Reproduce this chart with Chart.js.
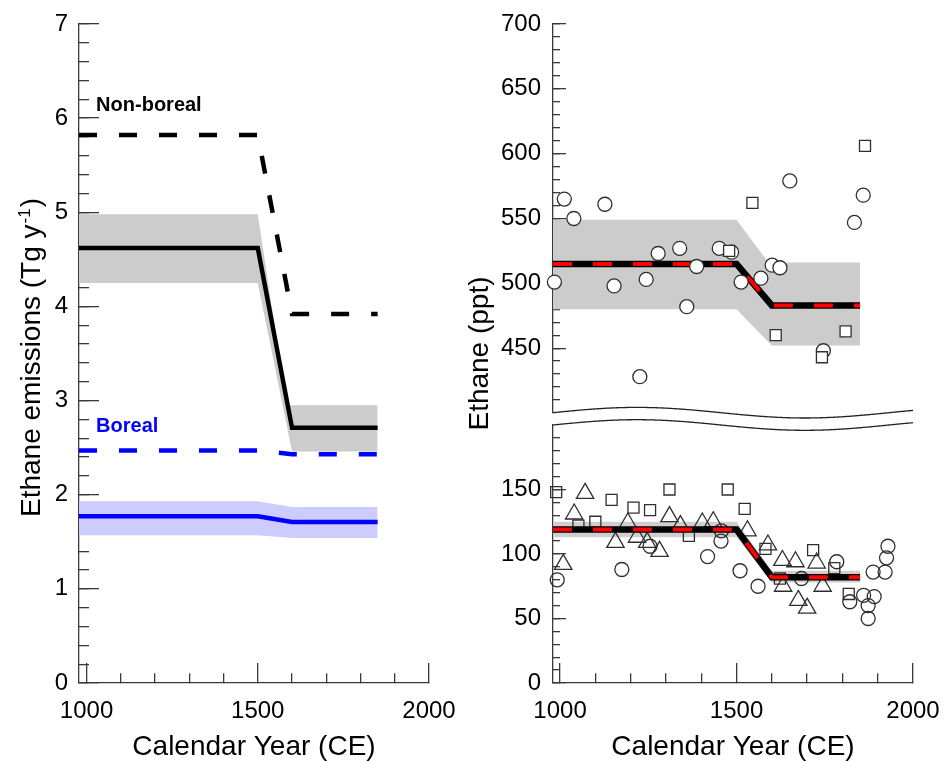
<!DOCTYPE html>
<html>
<head>
<meta charset="utf-8">
<script src="https://cdn.jsdelivr.net/npm/chart.js@4.4.1/dist/chart.umd.min.js"></script>
<style>
  html, body { margin: 0; padding: 0; background: #ffffff; }
  #wrap { position: relative; width: 945px; height: 761px; overflow: hidden; background: #ffffff; }
  #wrap canvas { position: absolute; left: 0; top: 0; }
</style>
</head>
<body>
<div id="wrap">
  <canvas id="cLeft" width="945" height="761"></canvas>
  <canvas id="cTop" width="945" height="761"></canvas>
  <canvas id="cBot" width="945" height="761"></canvas>
  <canvas id="cTicks" width="945" height="761"></canvas>
</div>
<script>
// ================= DATA =================
// Left panel: ethane emissions (Tg y-1)
const emisYears        = [978, 1500, 1600, 1850];
const nonBorealEmis    = [5.82, 5.82, 3.92, 3.92];
const totalEmis        = [4.62, 4.62, 2.71, 2.71];
const totalUpperYears  = [978, 1500, 1585, 1850];
const totalUpper       = [4.98, 4.98, 2.95, 2.95];
const totalLowerYears  = [978, 1500, 1600, 1850];
const totalLower       = [4.25, 4.25, 2.46, 2.46];
const borealDashedEmis = [2.47, 2.47, 2.43, 2.43];
const borealEmis       = [1.77, 1.77, 1.71, 1.71];
const borealUpper      = [1.93, 1.93, 1.87, 1.87];
const borealLower      = [1.57, 1.57, 1.54, 1.54];
const emisLabels = [
  { text: 'Non-boreal', year: 1028, value: 6.13, color: '#000000' },
  { text: 'Boreal',     year: 1028, value: 2.73, color: '#0000ff' }
];

// Right panel: ethane (ppt), model lines and bands
const modelYears      = [980, 1500, 1600, 1850];
const highModel       = [515, 515, 483, 483];
const highUpperYears  = [980, 1500, 1590, 1850];
const highUpper       = [549, 549, 516, 516];
const highLowerYears  = [980, 1500, 1600, 1850];
const highLower       = [480, 480, 452, 452];
const lowModel        = [119, 119, 82, 82];
const lowUpper        = [125, 125, 87, 87];
const lowLower        = [113, 113, 78, 78];

// Right panel, upper section observations
const highCircleYears  = [984, 1012, 1039, 1127, 1153, 1226, 1244, 1278, 1339, 1359, 1387, 1451, 1486, 1513, 1569, 1601, 1623, 1651, 1746, 1834, 1859];
const highCircleValues = [501, 565, 550, 561, 498, 428, 503, 523, 527, 482, 513, 527, 524, 501, 504, 514, 512, 579, 448, 547, 568];
const highSquareYears  = [1479, 1545, 1611, 1742, 1809, 1864];
const highSquareValues = [525, 562, 460, 443, 463, 606];

// Right panel, lower section observations
const lowSquareYears   = [989, 1052, 1100, 1146, 1208, 1255, 1310, 1365, 1475, 1523, 1582, 1623, 1717, 1777, 1818];
const lowSquareValues  = [148, 122, 125, 142, 136, 134, 150, 114, 150, 135, 104, 81, 103, 89, 69];
const lowTriYears      = [1009, 1040, 1071, 1157, 1192, 1218, 1247, 1282, 1310, 1341, 1403, 1434, 1531, 1589, 1630, 1667, 1727, 1675, 1700, 1744, 1632];
const lowTriValues     = [92, 131, 147, 109, 124, 113, 109, 102, 129, 122, 124, 125, 118, 107, 95, 94, 93, 64, 58, 75, 75];
const lowCircleYears   = [992, 1175, 1255, 1418, 1457, 1456, 1510, 1561, 1684, 1784, 1821, 1860, 1873, 1873, 1887, 1890, 1921, 1925, 1929];
const lowCircleValues  = [80, 88, 106, 98, 118, 110, 87, 75, 81, 94, 63, 68, 60, 50, 86, 67, 86, 97, 106];

// Axis ticks
const yearTicks       = [1000, 1100, 1200, 1300, 1400, 1500, 1600, 1700, 1800, 1900, 2000];
const yearTickLabels  = [1000, 1500, 2000];
const emisTickLabels  = [0, 1, 2, 3, 4, 5, 6, 7];
const highTickLabels  = [450, 500, 550, 600, 650, 700];
const lowTickLabels   = [0, 50, 100, 150];

function stepTicks(from, to, step) {
  const out = [];
  const n = Math.round((to - from) / step);
  for (let i = 0; i <= n; i++) out.push(Math.round((from + i * step) * 1000) / 1000);
  return out;
}
const emisTicks = stepTicks(0, 7, 0.2);
const highTicks = stepTicks(410, 700, 10);
const lowTicks  = stepTicks(0, 190, 10);

// ================= HELPERS =================
const pts = (xs, ys) => xs.map((x, i) => ({ x: x, y: ys[i] }));
const AXIS = '#3a3a3a';
const FONT = "'Liberation Sans', Arial, Helvetica, sans-serif";
Chart.defaults.font.family = FONT;
Chart.defaults.color = '#000000';

// main y axis: labels, border and the short (minor) inward ticks at every tick value
function yScale(min, max, tickValues, labels, o) {
  return {
    type: 'linear', position: 'left', weight: 1, min: min, max: max,
    afterBuildTicks: s => { s.ticks = tickValues.map(v => ({ value: v })); },
    afterFit: s => { s.width = o.width; s.paddingTop = 0; s.paddingBottom = 0; s.paddingLeft = 0; s.paddingRight = 0; },
    ticks: {
      autoSkip: false, padding: o.pad + o.minor, font: { size: 24 }, color: '#000',
      callback: v => labels.includes(v) ? String(v) : ''
    },
    grid: { display: true, drawOnChartArea: false, drawTicks: true, tickLength: -o.minor,
            tickWidth: 1.3, lineWidth: 1.3, tickColor: AXIS },
    border: { display: true, color: AXIS, width: 1.3 },
    title: { display: false }
  };
}
// companion zero-width y axis next to the plot: the long (major) inward ticks
function yMajorScale(min, max, majors, len) {
  return {
    type: 'linear', position: 'left', weight: 0, min: min, max: max,
    afterBuildTicks: s => { s.ticks = majors.map(v => ({ value: v })); },
    afterFit: s => { s.width = 0; s.paddingTop = 0; s.paddingBottom = 0; s.paddingLeft = 0; s.paddingRight = 0; },
    ticks: { display: false, autoSkip: false },
    grid: { display: true, drawOnChartArea: false, drawTicks: true, tickLength: -len,
            tickWidth: 1.3, lineWidth: 1.3, tickColor: AXIS },
    border: { display: false },
    title: { display: false }
  };
}

function xScale(min, max, show) {
  if (!show) {
    return { type: 'linear', min: min, max: max, display: false };
  }
  return {
    type: 'linear', position: 'bottom', min: min, max: max,
    afterBuildTicks: s => { s.ticks = yearTicks.map(v => ({ value: v })); },
    afterFit: s => { s.height = 78; s.paddingLeft = 0; s.paddingRight = 0; s.paddingTop = 0; s.paddingBottom = 0; },
    ticks: {
      autoSkip: false, maxRotation: 0, padding: 34, font: { size: 24 }, color: '#000',
      callback: v => yearTickLabels.includes(v) ? String(v) : ''
    },
    grid: {
      drawOnChartArea: false, drawTicks: true, tickLength: -20,
      tickWidth: 1.3, lineWidth: 1.3, tickColor: AXIS,
      tickBorderDash: c => (c && c.tick && yearTickLabels.includes(c.tick.value)) ? [] : [10, 100],
      tickBorderDashOffset: 0
    },
    border: { display: true, color: AXIS, width: 1.3 },
    title: { display: true, text: 'Calendar Year (CE)', color: '#000', font: { size: 28, lineHeight: 1 }, padding: { top: 0, bottom: 0 } }
  };
}

// rotated axis title, with optional superscript part
function drawRotatedTitle(ctx, cx, cy, parts) {
  ctx.save();
  ctx.translate(cx, cy);
  ctx.rotate(-Math.PI / 2);
  ctx.textAlign = 'left';
  ctx.textBaseline = 'alphabetic';
  ctx.fillStyle = '#000';
  const widths = [];
  let total = 0;
  parts.forEach(p => {
    ctx.font = p.size + 'px ' + FONT;
    const w = ctx.measureText(p.text).width + (p.gap || 0);
    widths.push(w);
    total += w;
  });
  let u = -total / 2;
  parts.forEach((p, i) => {
    ctx.font = p.size + 'px ' + FONT;
    ctx.fillText(p.text, u + (p.gap || 0) / 2, p.base);
    u += widths[i];
  });
  ctx.restore();
}

function lineDs(data, color, width, dash, order) {
  return { type: 'line', data: data, borderColor: color, borderWidth: width, borderDash: dash || [],
           pointRadius: 0, pointHoverRadius: 0, tension: 0, fill: false, order: order };
}
function bandDs(data, fillColor, fillTarget, order) {
  return { type: 'line', data: data, borderColor: 'rgba(0,0,0,0)', borderWidth: 0.01,
           backgroundColor: fillColor, pointRadius: 0, pointHoverRadius: 0, tension: 0,
           fill: fillTarget, order: order };
}
function markerDs(data, style, radius, bg, order) {
  return { type: 'line', data: data, showLine: false, pointStyle: style, pointRadius: radius,
           pointHoverRadius: radius, pointBorderColor: '#2f2f2f', pointBorderWidth: 1.3,
           pointBackgroundColor: bg, borderColor: '#2f2f2f', backgroundColor: bg, order: order, clip: false };
}
function baseOptions(padding, scales) {
  return {
    responsive: false, animation: false, devicePixelRatio: 1,
    plugins: { legend: { display: false }, tooltip: { enabled: false } },
    layout: { padding: padding },
    scales: scales
  };
}

// ================= LEFT CHART =================
const leftDecor = {
  id: 'leftDecor',
  afterDatasetsDraw(chart) {
    const { ctx, scales } = chart;
    ctx.save();
    ctx.font = 'bold 20px ' + FONT;
    ctx.textAlign = 'left';
    ctx.textBaseline = 'middle';
    emisLabels.forEach(l => {
      ctx.fillStyle = l.color;
      ctx.fillText(l.text, scales.x.getPixelForValue(l.year), scales.y.getPixelForValue(l.value));
    });
    ctx.restore();
  },
  afterDraw(chart) {
    const a = chart.chartArea;
    drawRotatedTitle(chart.ctx, a.left - 49, (a.top + a.bottom) / 2 + 4, [
      { text: 'Ethane emissions (Tg y', size: 28, base: 10 },
      { text: '-1', size: 17, base: 0, gap: 2 },
      { text: ')', size: 28, base: 10 }
    ]);
  }
};

const leftChart = new Chart(document.getElementById('cLeft'), {
  type: 'line',
  data: {
    datasets: [
      lineDs(pts(emisYears, nonBorealEmis), '#000000', 4.5, [18, 22], 1),
      lineDs(pts(emisYears, totalEmis), '#000000', 4.5, null, 1),
      lineDs(pts(emisYears, borealDashedEmis), '#0000ff', 4.5, [18, 22], 1),
      lineDs(pts(emisYears, borealEmis), '#0000ff', 4.5, null, 1),
      bandDs(pts(totalUpperYears, totalUpper), '#cccccc', '+1', 5),
      bandDs(pts(totalLowerYears, totalLower), 'rgba(0,0,0,0)', false, 5),
      bandDs(pts(emisYears, borealUpper), '#ccccff', '+1', 5),
      bandDs(pts(emisYears, borealLower), 'rgba(0,0,0,0)', false, 5)
    ]
  },
  options: baseOptions({ left: 0, top: 24, right: 516, bottom: 0 }, {
    x: xScale(978, 2000, true),
    y: yScale(0, 7, emisTicks, emisTickLabels, { width: 79, pad: 11, minor: 10 }),
    yMaj: yMajorScale(0, 7, emisTickLabels, 20)
  }),
  plugins: [leftDecor]
});

// ================= RIGHT TOP CHART (400-700 ppt) =================
const topDecor = {
  id: 'topDecor',
  afterDraw(chart) {
    const a = chart.chartArea;
    drawRotatedTitle(chart.ctx, a.left - 75, (a.top + 683) / 2, [
      { text: 'Ethane (ppt)', size: 28, base: 10 }
    ]);
  }
};

const topChart = new Chart(document.getElementById('cTop'), {
  type: 'line',
  data: {
    datasets: [
      markerDs(pts(highSquareYears, highSquareValues), 'rect', 7.8, '#ffffff', 0),
      markerDs(pts(highCircleYears, highCircleValues), 'circle', 7, '#ffffff', 1),
      lineDs(pts(modelYears, highModel), '#ff0000', 4, [19, 21], 2),
      lineDs(pts(modelYears, highModel), '#000000', 6.5, null, 3),
      bandDs(pts(highUpperYears, highUpper), '#cccccc', '+1', 4),
      bandDs(pts(highLowerYears, highLower), 'rgba(0,0,0,0)', false, 4)
    ]
  },
  options: baseOptions({ left: 470, top: 24, right: 32, bottom: 348 }, {
    x: xScale(980, 2000, false),
    y: yScale(400, 700, highTicks, highTickLabels, { width: 83, pad: 12, minor: 7 }),
    yMaj: yMajorScale(400, 700, highTickLabels, 13)
  }),
  plugins: [topDecor]
});

// ================= RIGHT BOTTOM CHART (0-200 ppt) =================
const botDecor = {
  id: 'botDecor',
  afterDraw(chart) {
    const { ctx, chartArea } = chart;
    const x0 = chartArea.left, x1 = chartArea.right;
    const yB = chartArea.top, yT = chartArea.top - 12.3;
    const A = 5.3, P = 336;
    const wave = (x, base) => base - A * Math.sin(2 * Math.PI * (x - x0) / P);
    ctx.save();
    ctx.beginPath();
    for (let x = x0; x <= x1; x++) ctx.lineTo(x, wave(x, yT));
    for (let x = x1; x >= x0; x--) ctx.lineTo(x, wave(x, yB));
    ctx.closePath();
    ctx.fillStyle = '#ffffff';
    ctx.fill();
    ctx.strokeStyle = '#222222';
    ctx.lineWidth = 1.3;
    [yT, yB].forEach(b => {
      ctx.beginPath();
      for (let x = x0; x <= x1; x++) {
        const y = wave(x, b);
        if (x === x0) ctx.moveTo(x, y); else ctx.lineTo(x, y);
      }
      ctx.stroke();
    });
    ctx.restore();
  }
};

const botChart = new Chart(document.getElementById('cBot'), {
  type: 'line',
  data: {
    datasets: [
      lineDs(pts(modelYears, lowModel), '#ff0000', 4, [19, 21], 0),
      lineDs(pts(modelYears, lowModel), '#000000', 6.5, null, 1),
      markerDs(pts(lowSquareYears, lowSquareValues), 'rect', 7.8, 'rgba(0,0,0,0)', 2),
      markerDs(pts(lowTriYears, lowTriValues), 'triangle', 10, 'rgba(0,0,0,0)', 2),
      markerDs(pts(lowCircleYears, lowCircleValues), 'circle', 7, 'rgba(0,0,0,0)', 2),
      bandDs(pts(modelYears, lowUpper), '#cfcfcf', '+1', 4),
      bandDs(pts(modelYears, lowLower), 'rgba(0,0,0,0)', false, 4)
    ]
  },
  options: baseOptions({ left: 470, top: 425, right: 32, bottom: 0 }, {
    x: xScale(980, 2000, true),
    y: yScale(0, 200, lowTicks, lowTickLabels, { width: 83, pad: 12, minor: 7 }),
    yMaj: yMajorScale(0, 200, lowTickLabels, 13)
  }),
  plugins: [botDecor]
});

// ========== fallback: if the inward y ticks did not come out, draw them from the scales ==========
(function ensureYTicks() {
  const overlay = document.getElementById('cTicks').getContext('2d');
  const panels = [
    { chart: leftChart, values: emisTicks, majors: emisTickLabels, major: 20, minor: 10, probe: 7 },
    { chart: topChart,  values: highTicks, majors: highTickLabels, major: 13, minor: 7, probe: 700 },
    { chart: botChart,  values: lowTicks,  majors: lowTickLabels,  major: 13, minor: 7, probe: 50 }
  ];
  panels.forEach(p => {
    const s = p.chart.scales.y;
    const left = p.chart.chartArea.left;
    let drawn = false;
    try {
      const px = Math.round(left + (p.major + p.minor) / 2);
      const py = Math.round(s.getPixelForValue(p.probe));
      const d = p.chart.ctx.getImageData(px, py - 2, 1, 5).data;
      for (let i = 3; i < d.length; i += 4) if (d[i] > 40) drawn = true;
    } catch (e) { drawn = false; }
    if (drawn) return;
    overlay.save();
    overlay.fillStyle = AXIS;
    p.values.forEach(v => {
      const y = s.getPixelForValue(v);
      const len = p.majors.includes(v) ? p.major : p.minor;
      overlay.fillRect(left - 1, Math.round(y) - 0.65, len + 1, 1.3);
    });
    overlay.restore();
  });
})();
</script>
</body>
</html>
